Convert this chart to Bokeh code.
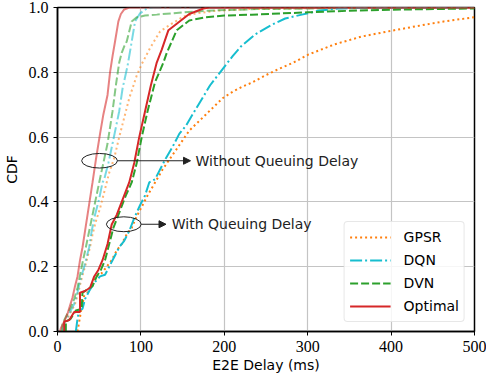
from bokeh.plotting import figure
from bokeh.models import Arrow, NormalHead, Label, Legend, LegendItem, FixedTicker
from bokeh.embed import file_html
from bokeh.resources import INLINE

# ---- data: E2E delay (ms) vs CDF ----
# With queuing delay
gpsr_x = [24, 26, 28, 32, 36, 41, 46, 53, 59, 65, 71, 77, 83, 89, 94, 100, 108, 117, 126, 134, 142,
          150, 158, 168, 178, 188, 198, 210, 221, 233, 249, 265, 283, 301, 332, 364, 400, 432, 463, 500]
gpsr_y = [0.0, 0.03, 0.06, 0.11, 0.12, 0.14, 0.17, 0.18, 0.2, 0.22, 0.25, 0.27, 0.3, 0.32, 0.35, 0.38,
          0.42, 0.46, 0.5, 0.53, 0.56, 0.59, 0.62, 0.645, 0.67, 0.695, 0.72, 0.74, 0.755, 0.768, 0.79,
          0.81, 0.83, 0.855, 0.886, 0.91, 0.928, 0.943, 0.957, 0.97]

dqn_x = [22, 24, 26, 30, 33, 38, 44, 51, 57, 62, 68, 74, 80, 86, 92, 99, 105, 110, 117, 123, 130, 138,
         146, 154, 162, 169, 176, 183, 189, 195, 201, 210, 220, 237, 257, 273, 293, 313, 337, 372, 500]
dqn_y = [0.0, 0.04, 0.065, 0.07, 0.1, 0.125, 0.15, 0.17, 0.175, 0.2, 0.23, 0.26, 0.28, 0.31, 0.35, 0.39,
         0.42, 0.46, 0.47, 0.5, 0.535, 0.57, 0.61, 0.635, 0.67, 0.7, 0.73, 0.76, 0.78, 0.8, 0.82, 0.85,
         0.88, 0.917, 0.947, 0.966, 0.978, 0.99, 0.997, 1.0, 1.0]

dvn_x = [10, 10, 16, 22, 29, 30, 36, 42, 47, 52, 57, 62, 67, 73, 82, 89, 95, 101, 108, 117, 127, 131,
         143, 158, 178, 200, 233, 300, 350, 420, 500]
dvn_y = [0.0, 0.03, 0.04, 0.065, 0.07, 0.12, 0.13, 0.14, 0.17, 0.19, 0.22, 0.27, 0.32, 0.36, 0.42, 0.46,
         0.52, 0.6, 0.68, 0.77, 0.83, 0.86, 0.93, 0.96, 0.97, 0.975, 0.978, 0.985, 0.99, 0.994, 0.997]

opt_x = [8, 8, 14, 20, 27, 27, 33, 39, 44, 49, 54, 60, 65, 71, 80, 86, 92, 98, 105, 112, 119, 125, 133,
         143, 158, 175, 182, 500]
opt_y = [0.0, 0.03, 0.035, 0.06, 0.06, 0.12, 0.125, 0.135, 0.17, 0.19, 0.22, 0.27, 0.33, 0.36, 0.42, 0.46,
         0.52, 0.6, 0.68, 0.76, 0.83, 0.87, 0.93, 0.95, 0.98, 0.997, 1.0, 1.0]

# Without queuing delay
gpsr_nq_x = [7, 9, 14, 21, 25, 28, 33, 39, 42, 46, 51, 56, 62, 68, 74, 80, 86, 95, 101, 111, 123, 135,
             151, 167, 190, 230, 300, 500]
gpsr_nq_y = [0.0, 0.025, 0.05, 0.085, 0.12, 0.155, 0.2, 0.26, 0.3, 0.34, 0.38, 0.43, 0.49, 0.535, 0.6,
             0.66, 0.72, 0.79, 0.825, 0.875, 0.926, 0.947, 0.972, 0.982, 0.99, 0.995, 0.998, 1.0]

dqn_nq_x = [6, 8, 13, 20, 24, 27, 32, 38, 41, 45, 50, 54, 56, 61, 66, 70, 74, 78, 84, 89, 93, 99, 107,
            115, 500]
dqn_nq_y = [0.0, 0.025, 0.05, 0.085, 0.12, 0.155, 0.2, 0.26, 0.31, 0.36, 0.41, 0.46, 0.47, 0.52, 0.58,
            0.63, 0.68, 0.75, 0.82, 0.895, 0.957, 0.982, 0.997, 1.0, 1.0]

dvn_nq_x = [5, 6, 11, 16, 20, 24, 29, 34, 38, 42, 46, 50, 55, 60, 66, 70, 74, 77, 80, 83, 89, 95, 105,
            119, 150, 178, 240, 350, 500]
dvn_nq_y = [0.0, 0.025, 0.05, 0.075, 0.1, 0.135, 0.2, 0.26, 0.31, 0.36, 0.41, 0.46, 0.52, 0.58, 0.68,
            0.76, 0.83, 0.86, 0.88, 0.895, 0.957, 0.97, 0.975, 0.978, 0.985, 0.99, 0.995, 0.998, 1.0]

opt_nq_x = [3, 4, 8, 12, 15, 18, 21, 24, 27, 30, 33, 36, 39, 42, 46, 51, 55, 60, 63, 66, 69, 73, 76,
            80, 86, 500]
opt_nq_y = [0.0, 0.01, 0.03, 0.055, 0.08, 0.105, 0.14, 0.17, 0.22, 0.26, 0.31, 0.36, 0.41, 0.46, 0.53,
            0.61, 0.67, 0.73, 0.8, 0.85, 0.895, 0.957, 0.98, 0.994, 1.0, 1.0]

series_names = ["GPSR", "DQN", "DVN", "Optimal"]
x_ticks = [0, 100, 200, 300, 400, 500]
y_ticks = [0.0, 0.2, 0.4, 0.6, 0.8, 1.0]

colors = ["#ff7f0e", "#17becf", "#2ca02c", "#d62728"]
dashes = ["2 3", "12 3 2 3", "8 3", "solid"]

SANS = "DejaVu Sans"
SERIF = "Liberation Serif"

p = figure(width=486, height=381, x_range=(0, 500), y_range=(0, 1.0),
           output_backend="svg", toolbar_location=None,
           min_border_left=54, min_border_right=12, min_border_top=7, min_border_bottom=50)

p.outline_line_color = "black"
p.outline_line_width = 1.5
p.background_fill_color = "white"
p.border_fill_color = "white"

for ax in (p.xaxis[0], p.yaxis[0]):
    ax.axis_line_color = "black"
    ax.axis_line_width = 1.5
    ax.major_tick_out = 4
    ax.major_tick_in = 0
    ax.major_tick_line_width = 1
    ax.minor_tick_out = 0
    ax.minor_tick_in = 0
    ax.major_label_text_font = SERIF
    ax.major_label_text_font_size = "16px"
    ax.major_label_text_color = "black"
    ax.axis_label_text_font = SANS
    ax.axis_label_text_font_size = "14px"
    ax.axis_label_text_font_style = "normal"
    ax.axis_label_text_color = "black"
    ax.major_label_standoff = 5

p.xaxis[0].axis_label_standoff = 2
p.yaxis[0].axis_label_standoff = 6

p.xaxis[0].ticker = FixedTicker(ticks=x_ticks)
p.yaxis[0].ticker = FixedTicker(ticks=y_ticks)
p.xaxis[0].major_label_overrides = {t: str(t) for t in x_ticks}
p.yaxis[0].major_label_overrides = {t: f"{t:.1f}" for t in y_ticks}
p.xaxis[0].axis_label = "E2E Delay (ms)"
p.yaxis[0].axis_label = "CDF"

p.xgrid.grid_line_color = "#c4c4c4"
p.ygrid.grid_line_color = "#c4c4c4"
p.xgrid.grid_line_width = 1.2
p.ygrid.grid_line_width = 1.2

nq = [(gpsr_nq_x, gpsr_nq_y), (dqn_nq_x, dqn_nq_y), (dvn_nq_x, dvn_nq_y), (opt_nq_x, opt_nq_y)]
wq = [(gpsr_x, gpsr_y), (dqn_x, dqn_y), (dvn_x, dvn_y), (opt_x, opt_y)]

for (xs, ys), c, d in zip(nq, colors, dashes):
    p.line(xs, ys, line_color=c, line_width=2, line_dash=d, line_alpha=0.58)

items = []
for (xs, ys), c, d, name in zip(wq, colors, dashes, series_names):
    r = p.line(xs, ys, line_color=c, line_width=2, line_dash=d)
    items.append(LegendItem(label=name, renderers=[r]))

# annotations
p.ellipse(x=[50.4, 79.5], y=[0.527, 0.331], width=[42.9, 41.7], height=[0.045, 0.046],
          fill_color=None, line_color="#222222", line_width=1)
p.add_layout(Arrow(end=NormalHead(size=7, fill_color="#222222", line_color="#222222"),
                   x_start=71.8, y_start=0.527, x_end=159.5, y_end=0.527,
                   line_color="#222222", line_width=1))
p.add_layout(Arrow(end=NormalHead(size=7, fill_color="#222222", line_color="#222222"),
                   x_start=100.4, y_start=0.331, x_end=130.1, y_end=0.331,
                   line_color="#222222", line_width=1))
p.add_layout(Label(x=165.5, y=0.527, text="Without Queuing Delay", text_baseline="middle",
                   text_font=SANS, text_font_size="14px", text_color="#222222"))
p.add_layout(Label(x=137, y=0.331, text="With Queuing Delay", text_baseline="middle",
                   text_font=SANS, text_font_size="14px", text_color="#222222"))

legend = Legend(items=items, location="bottom_right")
legend.label_text_font = SANS
legend.label_text_font_size = "14px"
legend.label_text_color = "black"
legend.glyph_width = 41
legend.glyph_height = 20
legend.label_height = 20
legend.label_standoff = 13
legend.spacing = 3
legend.padding = 5
legend.margin = 9
legend.border_line_color = "#d0d0d0"
legend.border_line_width = 1
legend.background_fill_alpha = 0.85
legend.border_radius = 4
p.add_layout(legend, "center")

open("out.html", "w").write(file_html(p, INLINE))
